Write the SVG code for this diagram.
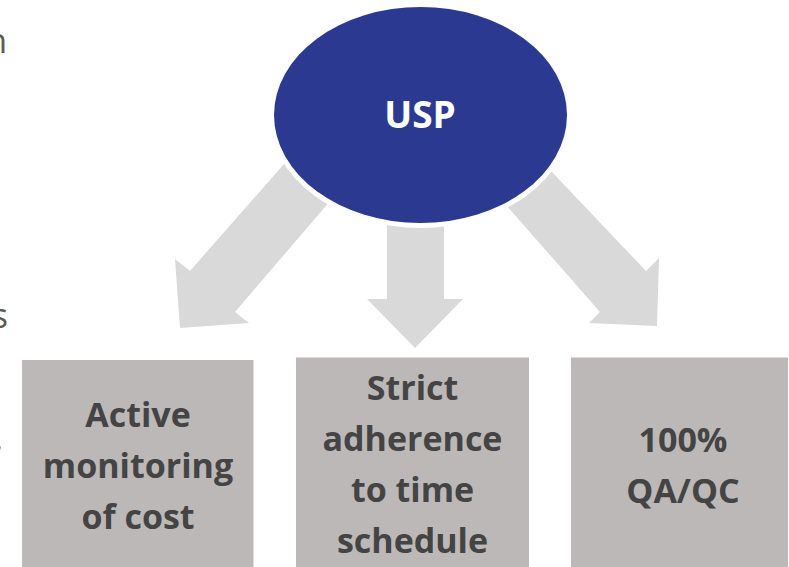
<svg xmlns="http://www.w3.org/2000/svg" width="789" height="567" viewBox="0 0 789 567">
  <style>
    .arrow { fill: #D9D9D9; }
    .box { fill: #BCB8B8; }
    .lbl { font-family: "Open Sans", "DejaVu Sans", sans-serif; font-weight: bold; font-size: 34px; fill: #444444; text-anchor: middle; }
    .frag { font-family: "Open Sans", "DejaVu Sans", sans-serif; font-size: 34px; fill: #595959; text-anchor: end; }
    .usp { font-family: "Open Sans", "DejaVu Sans", sans-serif; font-weight: bold; font-size: 37px; fill: #FFFFFF; text-anchor: middle; }
  </style>
  <rect width="789" height="567" fill="#FFFFFF"/>
  <g id="fragments">
    <text class="frag" x="7" y="53">n</text>
    <text class="frag" x="8" y="328">s</text>
    <text class="frag" x="3" y="450">.</text>
  </g>
  <g id="connectors">
    <polygon class="arrow" points="320,123 190,271 175,259 180,328 249,323 235,312 361,165"/>
    <polygon class="arrow" points="387,180 387,299 367,299 415,348 463,299 444,299 444,180"/>
    <polygon class="arrow" points="471,165 600,312 589,323 657,326 659,258 646,271 514,132"/>
  </g>
  <g id="usp">
    <ellipse cx="420.5" cy="115" rx="151.5" ry="113" fill="#FFFFFF"/>
    <ellipse cx="420.5" cy="115" rx="146.5" ry="108" fill="#2B3990"/>
    <text class="usp" x="420" y="128">USP</text>
  </g>
  <g id="cost">
    <rect class="box" x="22" y="360" width="231.5" height="207"/>
    <text class="lbl" x="138" y="427">Active</text>
    <text class="lbl" x="138" y="478">monitoring</text>
    <text class="lbl" x="138" y="529">of cost</text>
  </g>
  <g id="schedule">
    <rect class="box" x="296" y="357.5" width="233" height="209.5"/>
    <text class="lbl" x="412.5" y="400">Strict</text>
    <text class="lbl" x="412.5" y="451">adherence</text>
    <text class="lbl" x="412.5" y="502">to time</text>
    <text class="lbl" x="412.5" y="553">schedule</text>
  </g>
  <g id="qaqc">
    <rect class="box" x="571" y="357.5" width="217" height="209.5"/>
    <text class="lbl" x="683" y="452">100%</text>
    <text class="lbl" x="683" y="503">QA/QC</text>
  </g>
</svg>
